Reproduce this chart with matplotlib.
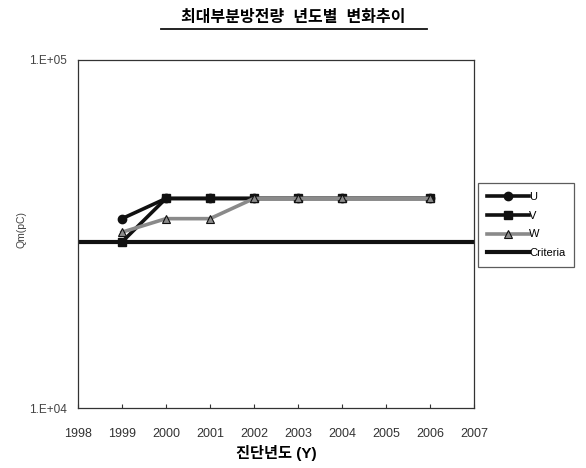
"""Yearly trend of maximum partial discharge (Qm) against the criteria line."""

import matplotlib
matplotlib.use("Agg")
import matplotlib.pyplot as plt
from matplotlib.lines import Line2D

plt.rcParams["font.family"] = ["Liberation Sans", "Noto Sans CJK KR", "DejaVu Sans"]

# data
years = [1999, 2000, 2001, 2002, 2003, 2004, 2006]
u_vals = [35000, 40000, 40000, 40000, 40000, 40000, 40000]
v_vals = [30000, 40000, 40000, 40000, 40000, 40000, 40000]
w_vals = [32000, 35000, 35000, 40000, 40000, 40000, 40000]
criteria_years = [1998, 2007]
criteria_vals = [30000, 30000]
xticks = list(range(1998, 2008))

BLACK = "#111111"
GRAY = "#8a8a8a"


def main():
    fig = plt.figure(figsize=(5.86, 4.68), dpi=100)
    ax = fig.add_axes([0.133, 0.128, 0.676, 0.744])

    ax.plot(years, u_vals, color=BLACK, linewidth=2.6, marker="o", markersize=6, label="U")
    ax.plot(years, v_vals, color=BLACK, linewidth=2.6, marker="s", markersize=6, label="V")
    ax.plot(years, w_vals, color=GRAY, linewidth=2.6, marker="^", markersize=6,
            markerfacecolor=GRAY, markeredgecolor=BLACK, markeredgewidth=0.8, label="W")
    ax.plot(criteria_years, criteria_vals, color=BLACK, linewidth=3.0, label="Criteria")

    ax.set_yscale("log")
    ax.set_ylim(1e4, 1e5)
    ax.set_xlim(1998, 2007)
    ax.set_yticks([1e4, 1e5])
    ax.set_yticklabels(["1.E+04", "1.E+05"])
    ax.yaxis.set_minor_locator(matplotlib.ticker.NullLocator())
    ax.set_xticks(xticks)
    ax.set_xticklabels([str(y) for y in xticks])
    ax.tick_params(axis="x", direction="in", length=3, labelsize=9, pad=14, colors="#333333")
    ax.tick_params(axis="y", length=0, labelsize=8.5, pad=8, colors="#444444")
    for side in ax.spines.values():
        side.set_linewidth(0.9)
        side.set_color("#333333")

    fig.text(0.036, 0.51, "Qm(pC)", rotation=90, ha="center", va="center",
             fontsize=7.5, color="#444444")
    ax.set_xlabel("진단년도 (Y)", fontsize=11, fontweight="bold", labelpad=4)

    leg = ax.legend(loc="center left", bbox_to_anchor=(0.995, 0.526), frameon=True,
                    fancybox=False, fontsize=8, handlelength=3.8, handletextpad=0.05,
                    labelspacing=0.8, borderpad=0.8, edgecolor="#333333")
    leg.get_frame().set_linewidth(0.9)

    fig.text(0.5, 0.962, "최대부분방전량  년도별  변화추이", ha="center", va="center",
             fontsize=11.5, fontweight="bold")
    fig.add_artist(Line2D([0.275, 0.728], [0.938, 0.938], color=BLACK, linewidth=1.3,
                          transform=fig.transFigure))

    fig.savefig("out.png", dpi=100)
    plt.close(fig)


if __name__ == "__main__":
    main()
